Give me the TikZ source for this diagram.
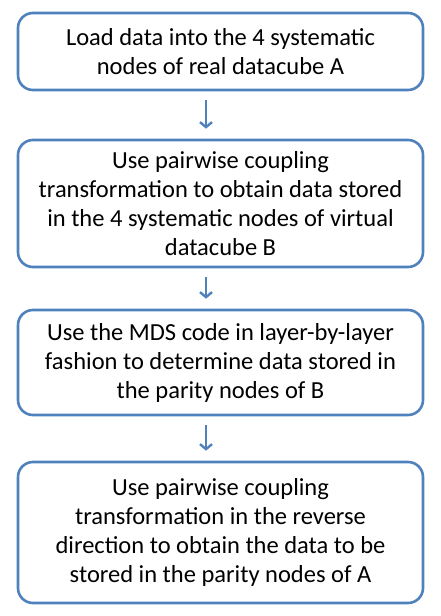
\documentclass[tikz,border=0pt]{standalone}
\usepackage{fontspec}
\setmainfont{Carlito}
\usetikzlibrary{arrows.meta}
\definecolor{boxblue}{RGB}{79,129,189}
\begin{document}
\begin{tikzpicture}[x=1pt,y=1pt,
    stepbox/.style={draw=boxblue, line width=2.6pt, rounded corners=15pt, fill=white,
      minimum width=405pt, align=center, font=\fontsize{24.5}{29}\selectfont},
    flow/.style={-{Straight Barb[length=5pt, width=12pt]}, draw=boxblue, line width=2.4pt,
      shorten <=9pt, shorten >=10pt}]
      \useasboundingbox (0, 0) rectangle (440, -616);
      \node [stepbox, minimum height=77pt] (load) at (220.5, -51.5)
        {Load data into the 4 systematic\\nodes of real datacube A};
      \node [stepbox, minimum height=127pt] (couple) at (220.5, -203.5)
        {Use pairwise coupling\\transformation to obtain data stored\\in the 4 systematic nodes of virtual\\datacube B};
      \node [stepbox, minimum height=105pt] (mds) at (220.5, -362.5)
        {Use the MDS code in layer-by-layer\\fashion to determine data stored in\\the parity nodes of B};
      \node [stepbox, minimum height=141pt] (reverse) at (220.5, -532.5)
        {Use pairwise coupling\\transformation in the reverse\\direction to obtain the data to be\\stored in the parity nodes of A};
      \draw [flow] (load.south -| 206, 0) -- (couple.north -| 206, 0);
      \draw [flow] (couple.south -| 206, 0) -- (mds.north -| 206, 0);
      \draw [flow] (mds.south -| 206, 0) -- (reverse.north -| 206, 0);
    \end{tikzpicture}
\end{document}
